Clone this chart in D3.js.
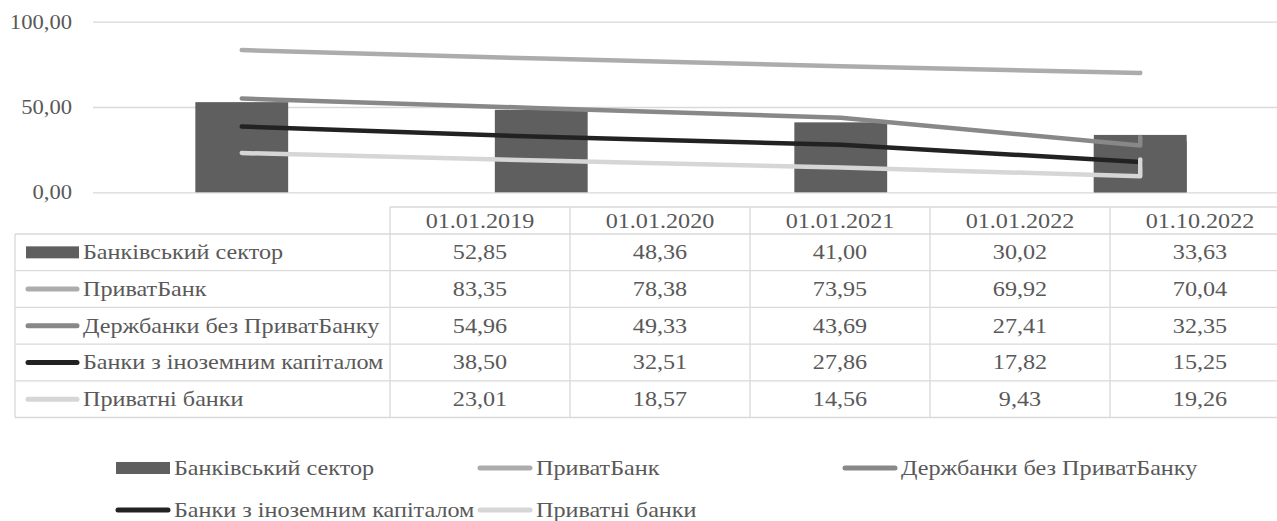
<!DOCTYPE html>
<html>
<head>
<meta charset="utf-8">
<script src="https://cdn.jsdelivr.net/npm/d3@7"></script>
<style>
  body { margin: 0; background: #fff; }
</style>
</head>
<body>
<div id="chart"></div>
<script>
// Data
var categories = ['01.01.2019', '01.01.2020', '01.01.2021', '01.01.2022', '01.10.2022'];
var bankSector   = [52.85, 48.36, 41.00, 30.02, 33.63];
var privatBank   = [83.35, 78.38, 73.95, 69.92, 70.04];
var stateBanks   = [54.96, 49.33, 43.69, 27.41, 32.35];
var foreignBanks = [38.50, 32.51, 27.86, 17.82, 15.25];
var privateBanks = [23.01, 18.57, 14.56, 9.43, 19.26];
var seriesNames = ['Банківський сектор', 'ПриватБанк', 'Держбанки без ПриватБанку',
                   'Банки з іноземним капіталом', 'Приватні банки'];
var yTicks = [0, 50, 100];

// Colour constants
var COLORS = {
  BAR: '#5f5f5f',
  PRIVAT: '#acacac',
  STATE: '#888888',
  FOREIGN: '#222222',
  PRIVATE: '#d6d6d6',
  GRID: '#d9d9d9',
  TEXT: '#595959'
};
var FONT_FAMILY = '"Liberation Serif", Tinos, "Times New Roman", "DejaVu Serif", serif';

var series = [
  {name: seriesNames[0], values: bankSector, type: 'bar', color: COLORS.BAR},
  {name: seriesNames[1], values: privatBank, type: 'line', color: COLORS.PRIVAT},
  {name: seriesNames[2], values: stateBanks, type: 'line', color: COLORS.STATE},
  {name: seriesNames[3], values: foreignBanks, type: 'line', color: COLORS.FOREIGN},
  {name: seriesNames[4], values: privateBanks, type: 'line', color: COLORS.PRIVATE}
];

var W = 1277, H = 521,
    PLOT_LEFT = 93, PLOT_RIGHT = 1290,
    PLOT_TOP = 21.7, PLOT_BOTTOM = 192.3,
    AXIS_FONT = 20, FONT = 21,
    AXIS_STRETCH = 1.13, STRETCH = 1.15; // the original picture is stretched sideways

var locale = d3.formatLocale({decimal: ',', thousands: ' ', grouping: [3], currency: ['', '']});
var fmt = locale.format('.2f');

// The date axis reads the labels as month.day.year, so both 2022 dates share one slot
var parseDate = d3.timeParse('%m.%d.%Y');
var dates = categories.map(parseDate);
var years = Array.from(new Set(dates.map(function(d) { return d.getFullYear(); })));

var x = d3.scaleBand().domain(years).range([PLOT_LEFT - 1, PLOT_RIGHT]);
var cx = function(i) { return x(dates[i].getFullYear()) + x.bandwidth() / 2; };
var y = d3.scaleLinear().domain([0, 100]).range([PLOT_BOTTOM, PLOT_TOP]);

var svg = d3.select('#chart').append('svg')
  .attr('width', W)
  .attr('height', H)
  .style('display', 'block');

// Gridlines and value labels
var yAxis = svg.append('g')
  .attr('transform', 'translate(' + PLOT_LEFT + ',0)')
  .call(d3.axisLeft(y).tickValues(yTicks).tickFormat(fmt)
    .tickSize(-(PLOT_RIGHT - PLOT_LEFT)).tickPadding(21));
yAxis.select('.domain').remove();
yAxis.selectAll('line').attr('stroke', COLORS.GRID).attr('stroke-width', 1.3);
yAxis.selectAll('text').attr('class', 'ax');

// Bars
var barW = x.bandwidth() * 0.31;
svg.append('g').selectAll('rect')
  .data(bankSector)
  .enter().append('rect')
  .attr('x', function(d, i) { return cx(i) - barW / 2; })
  .attr('y', function(d) { return y(d); })
  .attr('width', barW)
  .attr('height', function(d) { return y(0) - y(d); })
  .attr('fill', COLORS.BAR);

// Lines
var line = d3.line()
  .x(function(d, i) { return cx(i); })
  .y(function(d) { return y(d); });

svg.append('g').selectAll('path')
  .data(series.filter(function(s) { return s.type === 'line'; }))
  .enter().append('path')
  .attr('d', function(s) { return line(s.values); })
  .attr('fill', 'none')
  .attr('stroke', function(s) { return s.color; })
  .attr('stroke-width', 4.5)
  .attr('stroke-linecap', 'round')
  .attr('stroke-linejoin', 'round');

// Legend key (bar or line)
function drawKey(g, s, x0, x1, yc, barH) {
  if (s.type === 'bar') {
    g.append('rect')
      .attr('x', x0).attr('y', yc - barH / 2)
      .attr('width', x1 - x0).attr('height', barH)
      .attr('fill', s.color);
  } else {
    g.append('line')
      .attr('x1', x0 + 2).attr('x2', x1 - 2)
      .attr('y1', yc).attr('y2', yc)
      .attr('stroke', s.color)
      .attr('stroke-width', 5)
      .attr('stroke-linecap', 'round');
  }
}

// Data table
var TABLE_LEFT = 15, LABEL_COL = 390, COL_W = 180,
    HEAD_TOP = 207, HEAD_BOTTOM = 234, ROW_H = 36.7;
var table = svg.append('g');
var tableBottom = HEAD_BOTTOM + ROW_H * series.length;
var colX = d3.range(categories.length + 1).map(function(i) { return LABEL_COL + i * COL_W; });

table.append('line')
  .attr('x1', LABEL_COL).attr('x2', W)
  .attr('y1', HEAD_TOP).attr('y2', HEAD_TOP);
d3.range(series.length + 1).forEach(function(r) {
  table.append('line')
    .attr('x1', TABLE_LEFT).attr('x2', W)
    .attr('y1', HEAD_BOTTOM + r * ROW_H).attr('y2', HEAD_BOTTOM + r * ROW_H);
});
table.append('line')
  .attr('x1', TABLE_LEFT).attr('x2', TABLE_LEFT)
  .attr('y1', HEAD_BOTTOM).attr('y2', tableBottom);
colX.forEach(function(cxv) {
  table.append('line')
    .attr('x1', cxv).attr('x2', cxv)
    .attr('y1', HEAD_TOP).attr('y2', tableBottom);
});
table.selectAll('line').attr('stroke', COLORS.GRID).attr('stroke-width', 1.3);

categories.forEach(function(c, i) {
  table.append('text')
    .attr('class', 'st')
    .attr('x', LABEL_COL + COL_W * i + COL_W / 2)
    .attr('y', (HEAD_TOP + HEAD_BOTTOM) / 2 + 7)
    .attr('text-anchor', 'middle')
    .text(c);
});

series.forEach(function(s, r) {
  var yc = HEAD_BOTTOM + ROW_H * r + ROW_H / 2;
  drawKey(table, s, 26, 79, yc, 12);
  table.append('text')
    .attr('class', 'st')
    .attr('x', 83)
    .attr('y', yc + 7)
    .text(s.name);
  s.values.forEach(function(v, i) {
    table.append('text')
      .attr('class', 'st')
      .attr('x', LABEL_COL + COL_W * i + COL_W / 2)
      .attr('y', yc + 7)
      .attr('text-anchor', 'middle')
      .text(fmt(v));
  });
});

// Legend below the chart
var legendPos = [
  {x: 116, y: 468}, {x: 478, y: 468}, {x: 843, y: 468},
  {x: 116, y: 510}, {x: 478, y: 510}
];
var legend = svg.append('g');
series.forEach(function(s, i) {
  var p = legendPos[i];
  drawKey(legend, s, p.x, p.x + 54, p.y, 12);
  legend.append('text')
    .attr('class', 'st')
    .attr('x', p.x + 58)
    .attr('y', p.y + 7)
    .text(s.name);
});

// Stretch text sideways like the original
function styleText(sel, size, stretch) {
  sel.attr('font-family', FONT_FAMILY)
    .style('font-family', FONT_FAMILY)
    .attr('font-size', size)
    .attr('fill', COLORS.TEXT)
    .each(function() {
      var len = this.getComputedTextLength();
      d3.select(this)
        .attr('textLength', len * stretch)
        .attr('lengthAdjust', 'spacingAndGlyphs');
    });
}
styleText(svg.selectAll('text.ax'), AXIS_FONT, AXIS_STRETCH);
styleText(svg.selectAll('text.st'), FONT, STRETCH);
</script>
</body>
</html>
